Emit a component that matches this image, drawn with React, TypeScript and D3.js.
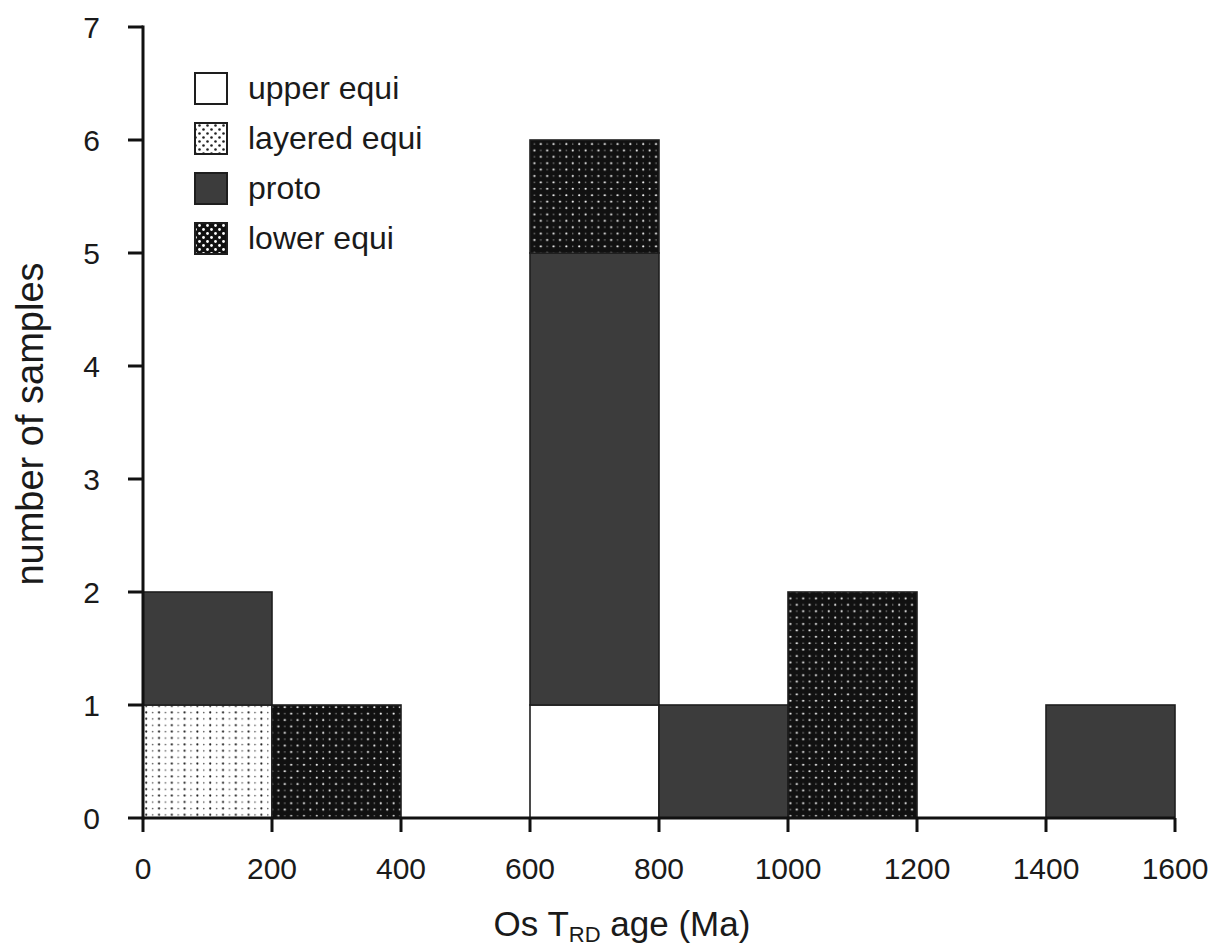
import React from "react";
import * as d3 from "d3";

const binStarts = [0, 200, 600, 800, 1000, 1400];
const binWidth = 200;
const seriesKeys = ["upper equi", "layered equi", "proto", "lower equi"];
const upperEqui = [0, 0, 1, 0, 0, 0];
const layeredEqui = [1, 0, 0, 0, 0, 0];
const proto = [1, 0, 4, 1, 0, 1];
const lowerEqui = [0, 1, 1, 0, 2, 0];
const xTicks = [0, 200, 400, 600, 800, 1000, 1200, 1400, 1600];
const yTicks = [0, 1, 2, 3, 4, 5, 6, 7];

const W = 1210;
const H = 948;
const FONT = "'Liberation Sans', Arial, Helvetica, sans-serif";

const fills: Record<string, string> = {
  "upper equi": "#ffffff",
  "layered equi": "url(#pLayered)",
  proto: "#3c3c3c",
  "lower equi": "url(#pLower)",
};
const legendFills: Record<string, string> = {
  "upper equi": "#ffffff",
  "layered equi": "url(#pLayeredLg)",
  proto: "#3c3c3c",
  "lower equi": "url(#pLowerLg)",
};

export default function App() {
  const x = d3.scaleLinear().domain([0, 1600]).range([143, 1175]);
  const y = d3.scaleLinear().domain([0, 7]).range([818, 27]);

  const rows = binStarts.map((b, i) => ({
    start: b,
    "upper equi": upperEqui[i],
    "layered equi": layeredEqui[i],
    proto: proto[i],
    "lower equi": lowerEqui[i],
  }));
  const stacked = d3.stack<any>().keys(seriesKeys)(rows);

  return (
    <svg width={W} height={H} style={{ position: "absolute", left: 0, top: 0, background: "#fff" }} fontFamily={FONT}>
      <defs>
        <pattern id="pLayered" patternUnits="userSpaceOnUse" width="12.8" height="6.4" x={x(0)} y={y(0)}>
          <rect width="12.8" height="6.4" fill="#fff" />
          <circle cx="3.2" cy="3.2" r="1.05" fill="#111" />
          <circle cx="9.6" cy="3.2" r="0.8" fill="#555" />
        </pattern>
        <pattern id="pLower" patternUnits="userSpaceOnUse" width="12.8" height="12.8">
          <rect width="12.8" height="12.8" fill="#111" />
          <circle cx="3.2" cy="3.2" r="1.1" fill="#fff" />
          <circle cx="9.6" cy="9.6" r="1.1" fill="#fff" />
          <circle cx="9.6" cy="3.2" r="0.7" fill="#999" />
          <circle cx="3.2" cy="9.6" r="0.7" fill="#999" />
        </pattern>
        <pattern id="pLayeredLg" patternUnits="userSpaceOnUse" width="8" height="8" x="194" y="0">
          <rect width="8" height="8" fill="#fff" />
          <circle cx="2.5" cy="2.5" r="1.3" fill="#222" />
          <circle cx="6.5" cy="6.5" r="1.3" fill="#222" />
        </pattern>
        <pattern id="pLowerLg" patternUnits="userSpaceOnUse" width="8" height="8" x="194" y="0">
          <rect width="8" height="8" fill="#111" />
          <circle cx="2.5" cy="2.5" r="1.4" fill="#fff" />
          <circle cx="6.5" cy="6.5" r="1.4" fill="#fff" />
        </pattern>
      </defs>

      {stacked.map((layer) => (
        <g key={layer.key}>
          {layer.map((d, i) =>
            d[1] - d[0] > 0 ? (
              <rect
                key={i}
                x={x(binStarts[i])}
                y={y(d[1])}
                width={x(binStarts[i] + binWidth) - x(binStarts[i])}
                height={y(d[0]) - y(d[1])}
                fill={fills[layer.key]}
                stroke="#1e1e1e"
                strokeWidth={1.6}
              />
            ) : null
          )}
        </g>
      ))}

      {/* axes */}
      <line x1={x(0)} x2={x(0)} y1={y(0) + 1.5} y2={y(7) - 1.5} stroke="#111" strokeWidth={3} />
      <line x1={x(0)} x2={x(1600)} y1={y(0)} y2={y(0)} stroke="#111" strokeWidth={3} />
      {yTicks.map((t) => (
        <g key={t}>
          <line x1={x(0) - 15} x2={x(0)} y1={y(t)} y2={y(t)} stroke="#111" strokeWidth={3} />
          <text x={x(0) - 43} y={y(t)} dy="0.36em" textAnchor="end" fontSize={30} fill="#1a1a1a">
            {t}
          </text>
        </g>
      ))}
      {xTicks.map((t) => (
        <g key={t}>
          <line x1={x(t)} x2={x(t)} y1={y(0)} y2={y(0) + 14} stroke="#111" strokeWidth={3} />
          <text x={x(t)} y={y(0) + 61} textAnchor="middle" fontSize={30} fill="#1a1a1a">
            {t}
          </text>
        </g>
      ))}

      {/* axis titles */}
      <text x={622} y={936} textAnchor="middle" fontSize={35} fill="#1a1a1a">
        Os T<tspan fontSize={22} dy={6}>RD</tspan>
        <tspan dy={-6}> age (Ma)</tspan>
      </text>
      <text transform={`translate(43, 424) rotate(-90)`} textAnchor="middle" fontSize={38} fill="#1a1a1a">
        number of samples
      </text>

      {/* legend */}
      {seriesKeys.map((k, i) => (
        <g key={k} transform={`translate(195, ${73 + i * 50})`}>
          <rect x={0} y={0} width={32} height={31} fill={legendFills[k]} stroke="#1e1e1e" strokeWidth={2} />
          <text x={53} y={26} fontSize={32} fill="#1a1a1a">
            {k}
          </text>
        </g>
      ))}
    </svg>
  );
}
